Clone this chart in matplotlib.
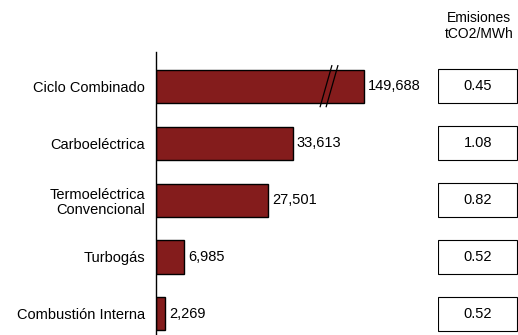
import matplotlib.pyplot as plt
from matplotlib.patches import Rectangle

plt.rcParams['font.family'] = ['Liberation Sans', 'DejaVu Sans']

# Data
categories = ["Ciclo Combinado", "Carboeléctrica", "Termoeléctrica\nConvencional",
              "Turbogás", "Combustión Interna"]
capacity = [149688, 33613, 27501, 6985, 2269]
emissions = [0.45, 1.08, 0.82, 0.52, 0.52]
header = "Emisiones\ntCO2/MWh"

# bars longer than this are drawn broken
break_cap = 51000
bar_color = "#841c1c"

fig = plt.figure(figsize=(5.18, 3.35), dpi=100)
ax = fig.add_axes([156 / 518, 0, 1 - 156 / 518, 283 / 335])

ypos = list(range(len(categories)))
shown = [min(v, break_cap) for v in capacity]
ax.barh(ypos, shown, height=0.58, color=bar_color, edgecolor="black", linewidth=1)

for y, v, s in zip(ypos, capacity, shown):
    ax.text(s + 900, y, f"{v:,}", va="center", ha="left", fontsize=10.5)
    if v > break_cap:
        # break marks
        for bx in (s * 0.817, s * 0.846):
            ax.plot([bx - 1470, bx + 1470], [y + 0.37, y - 0.37], color="black", lw=0.9,
                    solid_capstyle="butt")

ax.set_xlim(0, 362 / 0.00408)
ax.set_ylim(4.37, -0.6)
ax.set_yticks(ypos)
ax.set_yticklabels(categories, fontsize=10.5, linespacing=1.1)
ax.tick_params(axis="y", length=0, pad=8)
ax.set_xticks([])
for sp in ("top", "right", "bottom"):
    ax.spines[sp].set_visible(False)
ax.spines["left"].set_linewidth(1)

# emissions column
ax2 = fig.add_axes([438 / 518, 0, 80 / 518, 283 / 335])
ax2.set_xlim(0, 1)
ax2.set_ylim(4.37, -0.6)
ax2.axis("off")
for y, e in zip(ypos, emissions):
    ax2.add_patch(Rectangle((0.005, y - 0.3), 0.985, 0.6, facecolor="white",
                            edgecolor="black", linewidth=0.8))
    ax2.text(0.5, y, f"{e:.2f}", ha="center", va="center", fontsize=10.5)

fig.text(479 / 518, 1 - 26 / 335, header, ha="center", va="center", fontsize=10,
         linespacing=1.15)

fig.savefig("out.png", dpi=100)
